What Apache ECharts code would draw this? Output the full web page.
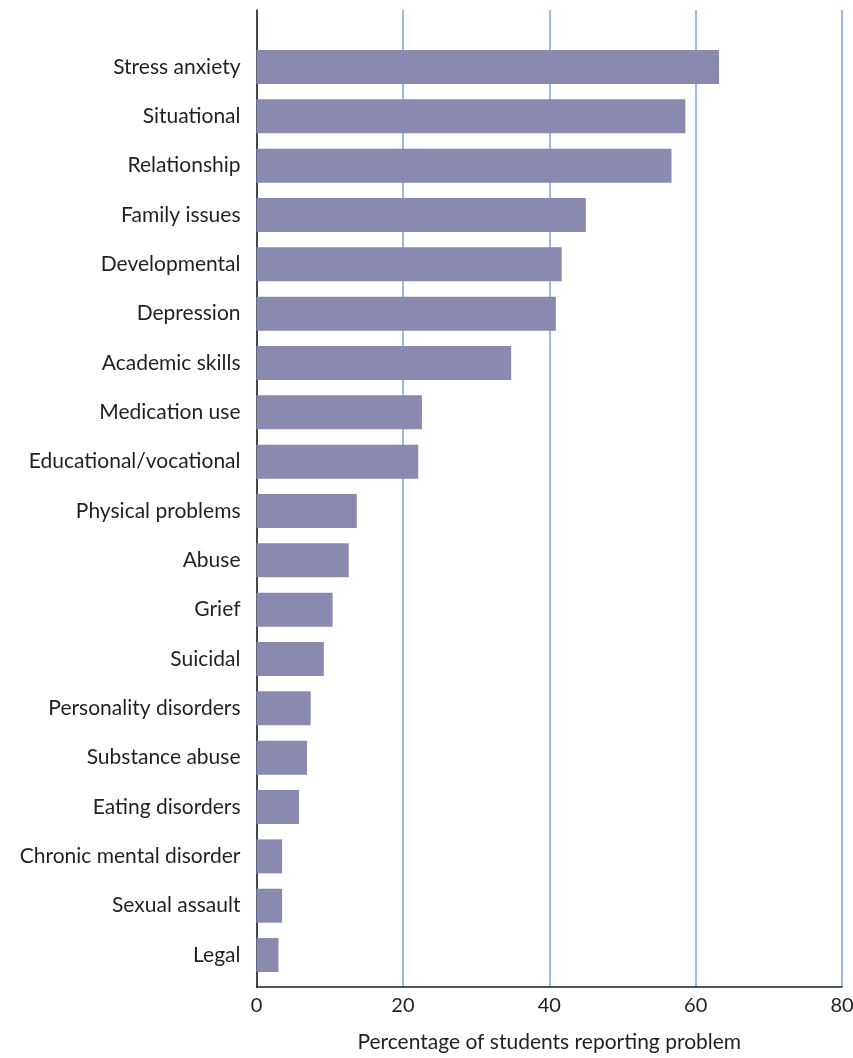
<!DOCTYPE html>
<html>
<head>
<meta charset="utf-8">
<script src="https://cdn.jsdelivr.net/npm/echarts@6/dist/echarts.min.js"></script>
<style>
  html, body { margin: 0; padding: 0; background: #fff; }
  #chart { width: 853px; height: 1058px; }
</style>
</head>
<body>
<div id="chart"></div>
<script>
// categories, top to bottom
const problems = [
  'Stress anxiety', 'Situational', 'Relationship', 'Family issues', 'Developmental',
  'Depression', 'Academic skills', 'Medication use', 'Educational/vocational',
  'Physical problems', 'Abuse', 'Grief', 'Suicidal', 'Personality disorders',
  'Substance abuse', 'Eating disorders', 'Chronic mental disorder', 'Sexual assault', 'Legal'
];
// percentage of students reporting problem
const percents = [
  63.2, 58.6, 56.7, 45.0, 41.7,
  40.9, 34.8, 22.6, 22.1,
  13.7, 12.6, 10.4, 9.2, 7.4,
  6.9, 5.8, 3.5, 3.5, 3.0
];
const xTicks = [0, 20, 40, 60, 80];

const barColor = '#8a89b0';
const gridBlue = '#7ba3dc';
const inkColor = '#231f20';
const fontFam = 'Lato, "Open Sans", sans-serif';

const chart = echarts.init(document.getElementById('chart'));

let option = {
  animation: false,
  textStyle: { fontFamily: fontFam },
  grid: [
    // bars area
    { left: 256.5, right: 11, top: 42.3, bottom: 78.3, outerBoundsMode: 'none' },
    // axes / frame area
    { left: 256.5, right: 11, top: 10, bottom: 71, outerBoundsMode: 'none' }
  ],
  xAxis: [
    { gridIndex: 0, type: 'value', min: 0, max: 80, show: false },
    {
      gridIndex: 1,
      type: 'value',
      min: xTicks[0],
      max: xTicks[xTicks.length - 1],
      interval: 20,
      name: 'Percentage of students reporting problem',
      nameLocation: 'middle',
      nameGap: 45,
      nameTextStyle: { fontSize: 21, color: inkColor, fontFamily: fontFam },
      axisLine: { show: true, lineStyle: { color: inkColor, width: 1.5 } },
      axisTick: { show: false },
      axisLabel: { fontSize: 20, color: inkColor, margin: 9, fontFamily: fontFam },
      splitLine: { show: true, lineStyle: { color: gridBlue, width: 1.5 } }
    }
  ],
  yAxis: [
    {
      gridIndex: 0,
      type: 'category',
      inverse: true,
      data: problems,
      axisLine: { show: false },
      axisTick: { show: false },
      axisLabel: { fontSize: 21, color: inkColor, margin: 16, fontFamily: fontFam }
    },
    {
      gridIndex: 1,
      type: 'value',
      min: 0,
      max: 1,
      axisLine: { show: true, lineStyle: { color: inkColor, width: 1.5 } },
      axisTick: { show: false },
      axisLabel: { show: false },
      splitLine: { show: false }
    }
  ],
  series: [
    {
      type: 'bar',
      xAxisIndex: 0,
      yAxisIndex: 0,
      data: percents,
      barWidth: 34,
      z: 5,
      itemStyle: { color: barColor }
    }
  ]
};

chart.setOption(option);
</script>
</body>
</html>
